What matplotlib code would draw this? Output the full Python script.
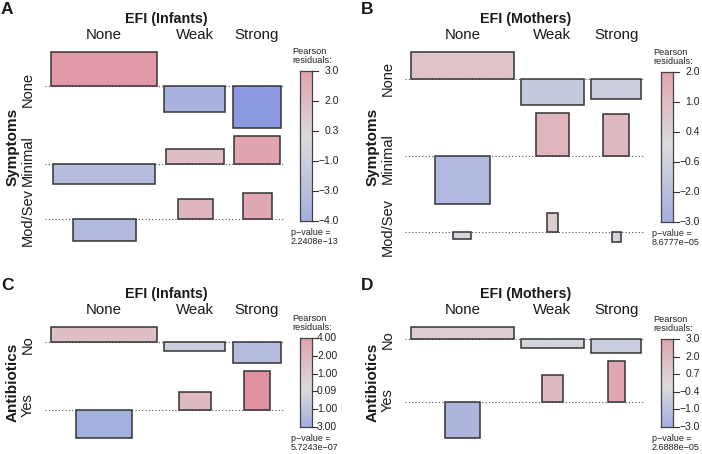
import numpy as np
import matplotlib
matplotlib.use("Agg")          # no display in the sandbox
import matplotlib.pyplot as plt
from matplotlib.colors import LinearSegmentedColormap
from matplotlib.patches import Rectangle
from matplotlib.transforms import blended_transform_factory as blend

plt.rcParams["font.family"] = ["Liberation Sans", "DejaVu Sans"]

# === Data ===
efi_levels = ["None", "Weak", "Strong"]
symptom_levels = ["None", "Minimal", "Mod/Sev"]
antibiotic_levels = ["No", "Yes"]

# Pearson residuals: rows = outcome level, cols = EFI level
resid_a = [[3.24, -2.48, -4.00], [-1.90, 1.43, 2.67], [-2.10, 1.90, 2.48]]
resid_b = [[1.16, -1.12, -0.86], [-2.07, 1.85, 1.81], [-0.30, 0.82, -0.43]]
resid_c = [[1.39, -0.83, -1.94], [-2.60, 1.67, 3.60]]
resid_d = [[0.75, -0.56, -0.88], [-2.25, 1.69, 2.56]]

# sqrt(expected counts) -> box widths
sqexp_a = [[10.6, 6.1, 4.8], [10.2, 5.8, 4.6], [6.3, 3.5, 2.9]]
sqexp_b = [[10.3, 6.3, 5.0], [5.5, 3.3, 2.6], [1.8, 1.1, 0.9]]
sqexp_c = [[10.6, 6.1, 4.8], [5.6, 3.2, 2.5]]
sqexp_d = [[10.3, 6.3, 5.0], [3.5, 2.1, 1.7]]

legend_labels_a = ["3.0", "2.0", "0.3", "\u22121.0", "\u22123.0", "\u22124.0"]
legend_labels_b = ["2.0", "1.0", "0.4", "\u22120.6", "\u22122.0", "\u22123.0"]
legend_labels_c = ["4.00", "2.00", "1.00", "0.09", "1.00", "3.00"]
legend_labels_d = ["3.0", "2.0", "0.7", "\u22120.4", "\u22121.0", "\u22123.0"]

pvalue_a = "2.2408e\u221213"
pvalue_b = "8.6777e\u221205"
pvalue_c = "5.7243e\u221207"
pvalue_d = "2.6888e\u221205"

# === Styling / layout ===
FIG_W, FIG_H = 702, 454
GAP_X, GAP_Y = 7.5, 8.5          # px between columns / rows
CMAP = LinearSegmentedColormap.from_list(
    "resid", ["#8A99E0", "#DCDCDC", "#E3899B"])
RMAX = 4.0
EDGE = "#333333"
TXT = "#1a1a1a"

fig = plt.figure(figsize=(FIG_W / 100, FIG_H / 100), dpi=100)


def fx(x):
    return x / FIG_W


def fy(y):
    return 1 - y / FIG_H


def assoc_panel(letter, box, bar, resid, sqexp, row_levels, row_var, title,
                leg_labels, leg_left_align, pvalue):
    l, t, r, b = box
    R = np.array(resid, dtype=float)
    S = np.array(sqexp, dtype=float)
    nrow, ncol = R.shape

    ax = fig.add_axes([fx(l), fy(b), (r - l) / FIG_W, (b - t) / FIG_H])
    ax.set_axis_off()

    col_w = S.max(axis=0)
    pos = np.clip(R.max(axis=1), 0, None)
    neg = np.clip(-R.min(axis=1), 0, None)
    row_h = pos + neg

    W = col_w.sum() / (1 - (ncol - 1) * GAP_X / (r - l))
    gx = GAP_X * W / (r - l)
    H = row_h.sum() / (1 - (nrow - 1) * GAP_Y / (b - t))
    gy = GAP_Y * H / (b - t)

    col_left = np.concatenate([[0], np.cumsum(col_w + gx)[:-1]])
    col_c = col_left + col_w / 2
    row_top = H - np.concatenate([[0], np.cumsum(row_h + gy)[:-1]])
    base = row_top - pos
    row_c = row_top - row_h / 2

    ax.set_xlim(0, W)
    ax.set_ylim(0, H)

    tr_x = blend(ax.transAxes, ax.transData)
    for i in range(nrow):
        ax.plot([-0.027, 1.008], [base[i], base[i]], transform=tr_x,
                ls=(0, (1, 2)), color="#555555", lw=0.8, clip_on=False, zorder=1)
        for j in range(ncol):
            v = R[i, j]
            ax.add_patch(Rectangle((col_c[j] - S[i, j] / 2, base[i] + min(v, 0)),
                                   S[i, j], abs(v),
                                   facecolor=CMAP((v / RMAX + 1) / 2),
                                   edgecolor=EDGE, lw=1.1, zorder=2,
                                   clip_on=False))

    # labels
    fig.text(fx(l - 50), fy(t - 42), letter, ha="left", va="center",
             fontsize=12.5, fontweight="bold", color=TXT)
    fig.text(fx((l + r) / 2), fy(t - 33), title, ha="center", va="center",
             fontsize=10.3, fontweight="bold", color=TXT)
    tr_col = blend(ax.transData, fig.transFigure)
    for j, lvl in enumerate(efi_levels):
        ax.text(col_c[j], fy(t - 17), lvl, transform=tr_col,
                ha="center", va="center", fontsize=10.8, color=TXT)
    tr_row = blend(fig.transFigure, ax.transData)
    for i, lvl in enumerate(row_levels):
        ax.text(fx(l - 23), row_c[i], lvl, transform=tr_row, rotation=90,
                ha="center", va="center", fontsize=10.5, color=TXT)
    fig.text(fx(l - 38.5), fy((t + b) / 2), row_var, rotation=90,
             ha="center", va="center", fontsize=11, fontweight="bold", color=TXT)

    # legend: shaded bar
    bl, bt, br, bb = bar
    cax = fig.add_axes([fx(bl), fy(bb), (br - bl) / FIG_W, (bb - bt) / FIG_H])
    rmax, rmin = R.max(), R.min()
    vals = np.linspace(rmax, rmin, 200)
    tv = np.where(vals > 0, vals / rmax, vals / -rmin) * 0.68
    cax.imshow(CMAP((tv + 1) / 2)[:, None, :], aspect="auto",
               extent=(0, 1, 0, 1))
    cax.set_xticks([])
    cax.set_yticks([])
    for sp in cax.spines.values():
        sp.set_color("#444444")
        sp.set_linewidth(0.9)

    ys = np.linspace(bt, bb, len(leg_labels))
    tick_len = 5 if leg_left_align else 6
    for y, lab in zip(ys, leg_labels):
        fig.add_artist(plt.Line2D([fx(br), fx(br + tick_len)], [fy(y), fy(y)],
                                  color="#333333", lw=0.8))
        if leg_left_align:
            fig.text(fx(br + tick_len), fy(y), lab, ha="left", va="center",
                     fontsize=7.5, color="#222222")
        else:
            fig.text(fx(br + 27), fy(y), lab, ha="right", va="center",
                     fontsize=7.5, color="#222222")

    fig.text(fx(bl - 8), fy(bt - 15), "Pearson\nresiduals:", ha="left",
             va="center", fontsize=6.6, linespacing=0.9, color="#222222")
    fig.text(fx(bl - 9), fy(bb + 16), "p\u2212value =\n" + pvalue, ha="left",
             va="center", fontsize=6.5, linespacing=0.9, color="#222222")


assoc_panel("A", (51, 52, 281, 241), (300, 71, 312, 221), resid_a, sqexp_a,
            symptom_levels, "Symptoms", "EFI (Infants)",
            legend_labels_a, False, pvalue_a)
assoc_panel("B", (411, 52, 641, 242), (661, 72, 673, 222), resid_b, sqexp_b,
            symptom_levels, "Symptoms", "EFI (Mothers)",
            legend_labels_b, False, pvalue_b)
assoc_panel("C", (51, 327, 281, 438), (300, 338, 312, 427), resid_c, sqexp_c,
            antibiotic_levels, "Antibiotics", "EFI (Infants)",
            legend_labels_c, True, pvalue_c)
assoc_panel("D", (411, 327, 641, 438), (661, 339, 673, 427), resid_d, sqexp_d,
            antibiotic_levels, "Antibiotics", "EFI (Mothers)",
            legend_labels_d, False, pvalue_d)

fig.savefig("out.png", dpi=100)
